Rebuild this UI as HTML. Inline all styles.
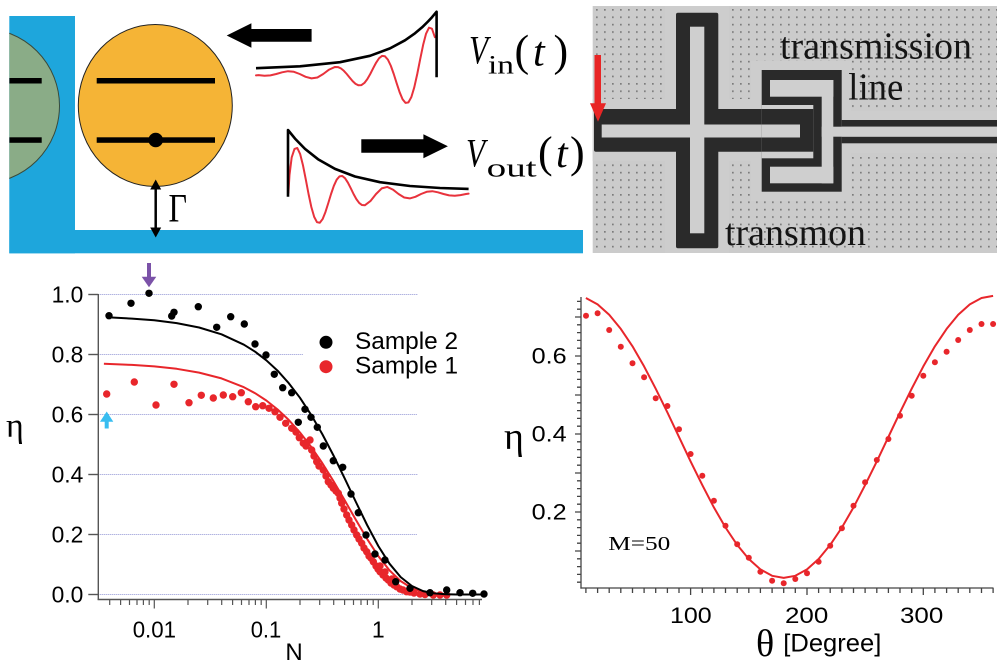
<!DOCTYPE html>
<html><head><meta charset="utf-8"><style>
html,body{margin:0;padding:0;background:#fff;}
svg{display:block;}
</style></head><body>
<svg width="1005" height="665" viewBox="0 0 1005 665" xmlns="http://www.w3.org/2000/svg">
<defs>
<clipPath id="gclip"><rect x="9.3" y="0" width="200" height="260"/></clipPath>
<pattern id="dp" x="596" y="9" width="8" height="7.4" patternUnits="userSpaceOnUse"><rect x="0" y="0" width="1.7" height="1.7" fill="#7c7c7c"/></pattern>
</defs>
<rect width="1005" height="665" fill="#fff"/>

<!-- ===== Schematic ===== -->
<rect x="9.3" y="16" width="65.7" height="237.3" fill="#1ea6dc"/>
<rect x="9.3" y="230" width="573.7" height="23.3" fill="#1ea6dc"/>
<g clip-path="url(#gclip)">
<ellipse cx="-18" cy="105.8" rx="77.5" ry="77.5" fill="#8aac87" stroke="#3a4a3a" stroke-width="1"/>
<rect x="9.3" y="78" width="32.4" height="5.5" fill="#000"/>
<rect x="9.3" y="137.3" width="32.4" height="5.5" fill="#000"/>
</g>
<ellipse cx="155.3" cy="105.5" rx="77" ry="81" fill="#f5b436" stroke="#222" stroke-width="1"/>
<rect x="96.7" y="78" width="118.3" height="5.5" fill="#000"/>
<rect x="96.7" y="137.3" width="118.3" height="5.5" fill="#000"/>
<circle cx="155.7" cy="140" r="7.3" fill="#000"/>
<line x1="155.7" y1="187" x2="155.7" y2="230" stroke="#000" stroke-width="2.5"/>
<polygon points="150.2,189.5 161.2,189.5 155.7,179.5" fill="#000"/>
<polygon points="150.2,227.5 161.2,227.5 155.7,237.5" fill="#000"/>
<text font-family="'Liberation Serif','Times New Roman',serif" font-size="40" transform="translate(168.5,221.7) scale(0.8,1)" fill="#000">Γ</text>

<polygon points="226.7,35.5 251.4,23.3 251.4,29 311.6,29 311.6,41.7 251.4,41.7 251.4,47.7" fill="#000"/>
<polygon points="361.3,139.3 423.4,139.3 423.4,134.3 447.9,146.3 423.4,158.3 423.4,152.7 361.3,152.7" fill="#000"/>

<!-- Vin -->
<polyline fill="none" stroke="#e8323c" stroke-width="2" stroke-linejoin="round" stroke-linecap="round" points="256,75.4 258.6,75.1 264.5,75.7 270.4,75.4 276.25,74 282.1,72.3 288,71.2 293.9,71.8 299.75,74 305.6,76.8 311.5,78.4 317.4,77.5 323.25,74 329.1,69.6 335,66.94 337.94,67.08 340.88,68.39 343.81,70.78 346.75,74 349.69,77.62 352.63,81.1 355.56,83.84 358.5,85.3 361.44,85.07 364.38,82.99 367.31,79.16 370.25,74 373.19,68.2 376.13,62.64 379.06,58.25 382,55.92 384.94,56.29 387.88,59.62 390.81,65.75 393.75,74 396.69,83.28 399.63,92.19 402.56,99.2 405.5,102.93 408.44,102.35 411.38,97.01 414.31,87.21 417.25,74 420.19,59.14 423.13,44.89 426.06,33.66 429,27.7 431.94,28.64 434.88,37.2"/>
<polyline fill="none" stroke="#000" stroke-width="2.6" stroke-linejoin="round" points="256,68.2 300,66.3 340,62.2 370,55.8 390,48.4 405,40.3 415,33.3 422,27.4 428,21.5 432,17.2 436.6,11.7 436.6,77.3"/>
<!-- Vout -->
<polyline fill="none" stroke="#e8323c" stroke-width="2" stroke-linejoin="round" stroke-linecap="round" points="288.4,193 289.5,175 291.68,157.43 294.49,148.94 297.3,148 300.11,153.92 302.93,165.07 305.74,179.24 308.55,194 311.36,207.13 314.18,216.88 316.99,222.2 319.8,222.78 322.61,219.08 325.43,212.1 328.24,203.24 331.05,194 333.86,185.78 336.68,179.68 339.49,176.35 342.3,175.99 345.11,178.3 347.93,182.67 350.74,188.22 353.55,194 356.36,199.14 359.18,202.96 361.99,205.04 364.8,205.27 370.4,201.1 376.05,194 381.7,188.4 387.3,186.95 392.9,189.6 398.55,194 404.2,197.5 409.8,198.4 415.4,196.8 421.05,194 426.7,191.8 432.3,191.2 437.9,192.3 443.55,194 449.2,195.4 454.8,195.7 460.4,195.1 466.05,194 468.6,193.6"/>
<polyline fill="none" stroke="#000" stroke-width="2.6" stroke-linejoin="round" points="288,196.7 288,130 295,138.6 305,148.9 318,159.2 335,168.9 355,176.5 380,182.2 410,186 440,188 468.6,188.9"/>

<!-- Vin / Vout labels -->
<g font-family="'Liberation Serif','Times New Roman',serif" fill="#000">
<text font-size="40" font-style="italic" transform="translate(469,63.3) scale(0.78,1)">V</text>
<text x="488" y="73.3" font-size="26" textLength="26" lengthAdjust="spacingAndGlyphs">in</text>
<text x="514.5" y="65.5" font-size="44">(</text>
<text x="533" y="65.5" font-size="42" font-style="italic">t</text>
<text x="553.5" y="65.5" font-size="44">)</text>
<text font-size="40" font-style="italic" transform="translate(466,166.7) scale(0.78,1)">V</text>
<text x="486.7" y="176.7" font-size="26" textLength="50" lengthAdjust="spacingAndGlyphs">out</text>
<text x="538" y="167" font-size="44">(</text>
<text x="556" y="167" font-size="42" font-style="italic">t</text>
<text x="570" y="167" font-size="44">)</text>
</g>

<!-- ===== Photo ===== -->
<rect x="592.7" y="6" width="404.3" height="247" fill="#cbcbcb"/>
<rect x="592.7" y="6" width="404.3" height="247" fill="url(#dp)"/>
<g fill="#cdcdcd">
<rect x="665" y="6" width="64" height="247"/>
<rect x="592.7" y="99" width="236" height="62"/>
<rect x="751" y="61" width="100" height="140"/>
<rect x="829" y="111" width="168" height="42"/>
</g>
<g fill="#2a2a2a">
<rect x="676" y="12.7" width="42.3" height="235.6" rx="2"/>
<rect x="594" y="109" width="219.3" height="42.7" rx="2"/>
<rect x="761.7" y="70" width="80" height="121.7"/>
</g>
<g fill="#cfcfcf">
<rect x="690" y="26.7" width="14.3" height="206.6"/>
<rect x="601.7" y="124.5" width="198.3" height="13"/>
<rect x="770" y="80" width="63.3" height="16.7"/>
<rect x="821.7" y="80" width="11.6" height="103.3"/>
<rect x="770" y="166.7" width="63.3" height="16.6"/>
<rect x="761.7" y="105" width="51.6" height="53.3"/>
</g>
<rect x="761.7" y="109" width="51.6" height="42.7" fill="#2a2a2a"/>
<rect x="761.7" y="124.5" width="38.3" height="13" fill="#cfcfcf"/>
<rect x="841.7" y="120" width="155.3" height="6.7" fill="#2a2a2a"/>
<rect x="841.7" y="136.7" width="155.3" height="6.6" fill="#2a2a2a"/>
<rect x="821.7" y="126.7" width="175.3" height="10" fill="#cfcfcf"/>
<text x="780" y="58.3" font-family="'Liberation Serif','Times New Roman',serif" font-size="38" fill="#151515" textLength="192" lengthAdjust="spacingAndGlyphs">transmission</text>
<text x="848.3" y="99.3" font-family="'Liberation Serif','Times New Roman',serif" font-size="38" fill="#151515" textLength="55" lengthAdjust="spacingAndGlyphs">line</text>
<text x="725" y="245" font-family="'Liberation Serif','Times New Roman',serif" font-size="38" fill="#151515" textLength="141" lengthAdjust="spacingAndGlyphs">transmon</text>
<rect x="594.5" y="55" width="6.5" height="48.5" fill="#e82525"/>
<polygon points="590,103.3 606,103.3 598,121.7" fill="#e82525"/>

<!-- ===== Left chart ===== -->
<g stroke="#9094d4" stroke-width="1" stroke-dasharray="1,1" fill="none">
<line x1="98.3" y1="294.5" x2="418" y2="294.5"/>
<line x1="98.3" y1="354.5" x2="303" y2="354.5"/>
<line x1="98.3" y1="414.5" x2="417" y2="414.5"/>
<line x1="98.3" y1="474.5" x2="418" y2="474.5"/>
<line x1="98.3" y1="534.5" x2="417" y2="534.5"/>
<line x1="98.3" y1="594.5" x2="460" y2="594.5"/>
</g>
<g stroke="#555" stroke-width="1.4" fill="none">
<line x1="98.3" y1="294" x2="98.3" y2="600"/>
<line x1="97.6" y1="599.5" x2="482" y2="599.5"/>
<line x1="88.3" y1="294.5" x2="98.3" y2="294.5"/>
<line x1="88.3" y1="354.5" x2="98.3" y2="354.5"/>
<line x1="88.3" y1="414.5" x2="98.3" y2="414.5"/>
<line x1="88.3" y1="474.5" x2="98.3" y2="474.5"/>
<line x1="88.3" y1="534.5" x2="98.3" y2="534.5"/>
<line x1="88.3" y1="594.5" x2="98.3" y2="594.5"/>
</g>
<g stroke="#555" stroke-width="1.2">
<path d="M109.7,599.5v5.5M120.6,599.5v5.5M129.5,599.5v5.5M137,599.5v5.5M143.4,599.5v5.5M149.2,599.5v5.5M154.3,599.5v9M188,599.5v5.5M207.7,599.5v5.5M221.7,599.5v5.5M232.6,599.5v5.5M241.5,599.5v5.5M249,599.5v5.5M255.4,599.5v5.5M261.2,599.5v5.5M266.3,599.5v9M300,599.5v5.5M319.7,599.5v5.5M333.7,599.5v5.5M344.6,599.5v5.5M353.5,599.5v5.5M361,599.5v5.5M367.4,599.5v5.5M373.2,599.5v5.5M378.3,599.5v9M412,599.5v5.5M431.7,599.5v5.5M445.7,599.5v5.5M456.6,599.5v5.5M465.5,599.5v5.5M473,599.5v5.5M479.4,599.5v5.5"/>
</g>
<g font-family="'Liberation Sans',Arial,sans-serif" font-size="23" fill="#000">
<text x="51.6" y="302.5" textLength="31.7" lengthAdjust="spacingAndGlyphs">1.0</text>
<text x="51.6" y="362.5" textLength="31.7" lengthAdjust="spacingAndGlyphs">0.8</text>
<text x="51.6" y="422.5" textLength="31.7" lengthAdjust="spacingAndGlyphs">0.6</text>
<text x="51.6" y="482.5" textLength="31.7" lengthAdjust="spacingAndGlyphs">0.4</text>
<text x="51.6" y="542.5" textLength="31.7" lengthAdjust="spacingAndGlyphs">0.2</text>
<text x="51.6" y="602.5" textLength="31.7" lengthAdjust="spacingAndGlyphs">0.0</text>
<text x="132.7" y="637.5" textLength="43.3" lengthAdjust="spacingAndGlyphs">0.01</text>
<text x="250.7" y="637.5" textLength="30.6" lengthAdjust="spacingAndGlyphs">0.1</text>
<text x="378.3" y="637.5" text-anchor="middle">1</text>
<text x="294" y="660" text-anchor="middle" font-size="24">N</text>
</g>
<text x="6" y="437" font-family="'Liberation Serif','Times New Roman',serif" font-size="34" fill="#000">η</text>

<!-- red fit -->
<polyline fill="none" stroke="#e8262b" stroke-width="2" stroke-linejoin="round" points="103.9,363.8 131.9,364.9 154.3,366.4 176.7,368.8 199.1,372.6 221.5,378.4 243.9,387.2 255.1,393.2 266.3,400.5 277.5,409.4 288.7,419.9 299.9,432.4 311.1,446.8 322.3,463.1 333.5,481.1 344.7,500.3 355.9,519.9 367.1,538.9 378.3,556.1 389.5,570.4 400.7,581.1 411.9,588.1 423.1,592 434.3,593.7 445.5,594.3"/>
<!-- red data -->
<g fill="#e8262b">
<circle cx="106.7" cy="394" r="3.7"/><circle cx="134.3" cy="382" r="3.7"/><circle cx="156" cy="405" r="3.7"/><circle cx="174" cy="384.3" r="3.7"/><circle cx="189" cy="402.7" r="3.7"/><circle cx="201.3" cy="395.3" r="3.7"/><circle cx="213.3" cy="398" r="3.7"/><circle cx="223.3" cy="395" r="3.7"/><circle cx="232.7" cy="396.7" r="3.7"/><circle cx="241.3" cy="392.7" r="3.7"/><circle cx="248.3" cy="401.7" r="3.7"/><circle cx="255.7" cy="406.7" r="3.7"/><circle cx="262.7" cy="405.7" r="3.7"/><circle cx="269" cy="408.3" r="3.7"/><circle cx="275" cy="411.7" r="3.7"/><circle cx="280" cy="417.3" r="3.7"/><circle cx="285.7" cy="423.3" r="3.7"/><circle cx="291.7" cy="428.3" r="3.7"/><circle cx="296" cy="432" r="3.7"/><circle cx="299.3" cy="437.7" r="3.7"/><circle cx="303.3" cy="443.3" r="3.7"/><circle cx="306" cy="446" r="3.7"/><circle cx="310" cy="440" r="3.7"/><circle cx="311.7" cy="450" r="3.7"/><circle cx="314" cy="456" r="3.7"/><circle cx="316.7" cy="461.7" r="3.7"/><circle cx="319" cy="466" r="3.7"/><circle cx="323.3" cy="470" r="3.7"/><circle cx="326" cy="476" r="3.7"/><circle cx="328.3" cy="481.7" r="3.7"/><circle cx="331" cy="485" r="3.7"/><circle cx="333.3" cy="488.3" r="3.7"/><circle cx="336" cy="491" r="3.7"/><circle cx="338.3" cy="493.3" r="3.7"/><circle cx="340" cy="498" r="3.7"/><circle cx="341.7" cy="503.3" r="3.7"/><circle cx="344" cy="509" r="3.7"/><circle cx="346.7" cy="515" r="3.7"/><circle cx="349" cy="520" r="3.7"/><circle cx="351.7" cy="525" r="3.7"/><circle cx="354" cy="530" r="3.7"/><circle cx="356.7" cy="535" r="3.7"/><circle cx="359" cy="539" r="3.7"/><circle cx="361.7" cy="543.3" r="3.7"/><circle cx="364" cy="548" r="3.7"/><circle cx="366.7" cy="551.7" r="3.7"/><circle cx="369" cy="556" r="3.7"/><circle cx="371" cy="558" r="3.7"/><circle cx="373.3" cy="561.7" r="3.7"/><circle cx="376" cy="566" r="3.7"/><circle cx="378" cy="569" r="3.7"/><circle cx="380" cy="571.7" r="3.7"/><circle cx="380" cy="566" r="3.7"/><circle cx="383" cy="575" r="3.7"/><circle cx="385" cy="572" r="3.7"/><circle cx="386" cy="578" r="3.7"/><circle cx="388.3" cy="580" r="3.7"/><circle cx="391" cy="583" r="3.7"/><circle cx="392" cy="579" r="3.7"/><circle cx="394" cy="585" r="3.7"/><circle cx="396.7" cy="586.7" r="3.7"/><circle cx="400" cy="589" r="3.7"/><circle cx="403" cy="590" r="3.7"/><circle cx="406.7" cy="591.7" r="3.7"/><circle cx="410" cy="592" r="3.7"/><circle cx="414" cy="593" r="3.7"/><circle cx="420" cy="594" r="3.7"/><circle cx="425" cy="594.5" r="3.7"/><circle cx="433.3" cy="595" r="3.7"/><circle cx="440" cy="595" r="3.7"/><circle cx="446.7" cy="595" r="3.7"/>
</g>
<!-- black fit -->
<polyline fill="none" stroke="#000" stroke-width="2" stroke-linejoin="round" points="109.5,317.4 131.9,318.6 154.3,320.3 176.7,323.1 199.1,327.5 221.5,334.3 243.9,344.7 255.1,351.7 266.3,360.3 277.5,370.6 288.7,383.1 299.9,397.7 311.1,414.8 322.3,434.1 333.5,455.5 344.7,478.4 355.9,502 367.1,525 378.3,546 389.5,563.7 400.7,577.1 411.9,586 423.1,591.1 434.3,593.4 445.5,594.2 456.7,594.5 483.6,594.5"/>
<g fill="#000">
<circle cx="109" cy="315.7" r="3.7"/><circle cx="131" cy="303.3" r="3.7"/><circle cx="149" cy="293.3" r="3.7"/><circle cx="171.7" cy="316" r="3.7"/><circle cx="174" cy="312.3" r="3.7"/><circle cx="198.3" cy="306.7" r="3.7"/><circle cx="216.7" cy="327.3" r="3.7"/><circle cx="230.7" cy="316.7" r="3.7"/><circle cx="244.3" cy="324" r="3.7"/><circle cx="255" cy="344" r="3.7"/><circle cx="266" cy="355" r="3.7"/><circle cx="274.3" cy="374.3" r="3.7"/><circle cx="282.7" cy="387.7" r="3.7"/><circle cx="291.7" cy="392.7" r="3.7"/><circle cx="298.3" cy="422.3" r="3.7"/><circle cx="305" cy="409.3" r="3.7"/><circle cx="311" cy="417.3" r="3.7"/><circle cx="317.3" cy="427.3" r="3.7"/><circle cx="323.3" cy="446" r="3.7"/><circle cx="333.3" cy="460.7" r="3.7"/><circle cx="342.7" cy="467.3" r="3.7"/><circle cx="351" cy="494" r="3.7"/><circle cx="358.3" cy="512.7" r="3.7"/><circle cx="366" cy="535" r="3.7"/><circle cx="375" cy="554" r="3.7"/><circle cx="385" cy="560" r="3.7"/><circle cx="395.7" cy="581.7" r="3.7"/><circle cx="410" cy="588.3" r="3.7"/><circle cx="430" cy="592.7" r="3.7"/><circle cx="446.7" cy="590" r="3.7"/><circle cx="460" cy="592.7" r="3.7"/><circle cx="472.7" cy="593.3" r="3.7"/><circle cx="484" cy="594" r="3.7"/>
</g>
<!-- legend -->
<circle cx="326" cy="342.3" r="6.5" fill="#000"/>
<circle cx="326" cy="366.7" r="6.5" fill="#e8262b"/>
<text x="355" y="349" font-family="'Liberation Sans',Arial,sans-serif" font-size="24" fill="#000" textLength="103" lengthAdjust="spacingAndGlyphs">Sample 2</text>
<text x="355" y="373.3" font-family="'Liberation Sans',Arial,sans-serif" font-size="24" fill="#000" textLength="103" lengthAdjust="spacingAndGlyphs">Sample 1</text>
<!-- arrows -->
<rect x="147" y="263" width="4" height="14" fill="#7b52a8"/>
<polygon points="141.7,276.7 156.3,276.7 149,287.3" fill="#7b52a8"/>
<polygon points="100,421.7 113.3,421.7 106.7,411.5" fill="#38bdf0"/>
<rect x="104.7" y="421" width="4" height="7.5" fill="#38bdf0"/>

<!-- ===== Right chart ===== -->
<g stroke="#444" stroke-width="1.3" fill="none">
<line x1="581" y1="297" x2="581" y2="588.6"/>
<line x1="580.4" y1="588" x2="993.5" y2="588"/>
<path d="M577,582.2h4M577,574.4h4M577,566.6h4M577,558.8h4M575,551h6M577,543.2h4M577,535.4h4M577,527.6h4M577,519.8h4M575,512h6M577,504.2h4M577,496.4h4M577,488.6h4M577,480.8h4M575,473h6M577,465.2h4M577,457.4h4M577,449.6h4M577,441.8h4M575,434h6M577,426.2h4M577,418.4h4M577,410.6h4M577,402.8h4M575,395h6M577,387.2h4M577,379.4h4M577,371.6h4M577,363.8h4M575,356h6M577,348.2h4M577,340.4h4M577,332.6h4M577,324.8h4M575,317h6M577,309.2h4M577,301.4h4"/>
<path d="M585.9,588v5M597.6,588v5M609.2,588v5M620.8,588v5M632.5,588v5M644.1,588v5M655.7,588v5M667.4,588v5M679,588v5M690.6,588v7M702.3,588v5M713.9,588v5M725.5,588v5M737.2,588v5M748.8,588v5M760.4,588v5M772.1,588v5M783.7,588v5M795.3,588v5M807,588v7M818.6,588v5M830.2,588v5M841.9,588v5M853.5,588v5M865.1,588v5M876.8,588v5M888.4,588v5M900,588v5M911.7,588v5M923.3,588v7M934.9,588v5M946.6,588v5M958.2,588v5M969.8,588v5M981.5,588v5M993.1,588v5"/>
</g>
<polyline fill="none" stroke="#e8262b" stroke-width="2" stroke-linejoin="round" points="585.9,298 597.6,304.4 609.2,314.8 620.8,328.9 632.5,346.3 644.1,366.4 655.7,388.7 667.4,412.4 679,436.9 690.6,461.4 702.3,485.1 713.9,507.4 725.5,527.5 737.2,544.9 748.8,559 760.4,569.4 772.1,575.8 783.7,577.9 795.3,575.8 807,569.4 818.6,559 830.2,544.9 841.9,527.5 853.5,507.4 865.1,485.1 876.8,461.4 888.4,436.9 900,412.4 911.7,388.7 923.3,366.4 934.9,346.3 946.6,328.9 958.2,314.8 969.8,304.4 981.5,298 993.1,295.9"/>
<g fill="#e8262b">
<circle cx="586" cy="315.7" r="3"/><circle cx="597.6" cy="313.3" r="3"/><circle cx="609.2" cy="330" r="3"/><circle cx="620.8" cy="346.7" r="3"/><circle cx="632.5" cy="363.3" r="3"/><circle cx="644.1" cy="377.3" r="3"/><circle cx="655.7" cy="398.3" r="3"/><circle cx="667.4" cy="406" r="3"/><circle cx="679" cy="429.3" r="3"/><circle cx="690.6" cy="454" r="3"/><circle cx="702.3" cy="475.7" r="3"/><circle cx="713.9" cy="500.7" r="3"/><circle cx="725.5" cy="525.7" r="3"/><circle cx="737.2" cy="544.3" r="3"/><circle cx="748.8" cy="557.7" r="3"/><circle cx="760.4" cy="571.7" r="3"/><circle cx="772.1" cy="580.7" r="3"/><circle cx="783.7" cy="583.3" r="3"/><circle cx="795.3" cy="579" r="3"/><circle cx="807" cy="573.3" r="3"/><circle cx="818.6" cy="561.7" r="3"/><circle cx="830.2" cy="545.7" r="3"/><circle cx="841.9" cy="528.3" r="3"/><circle cx="853.5" cy="505.7" r="3"/><circle cx="865.1" cy="482.3" r="3"/><circle cx="876.8" cy="460" r="3"/><circle cx="888.4" cy="439" r="3"/><circle cx="900" cy="415.7" r="3"/><circle cx="911.7" cy="395.7" r="3"/><circle cx="923.3" cy="375.7" r="3"/><circle cx="934.9" cy="362.3" r="3"/><circle cx="946.6" cy="351.7" r="3"/><circle cx="958.2" cy="340" r="3"/><circle cx="969.8" cy="330" r="3"/><circle cx="981.5" cy="324" r="3"/><circle cx="993.1" cy="324" r="3"/>
</g>
<g font-family="'Liberation Sans',Arial,sans-serif" font-size="22" fill="#000">
<text x="531.7" y="363.3" textLength="35" lengthAdjust="spacingAndGlyphs">0.6</text>
<text x="531.7" y="441.3" textLength="35" lengthAdjust="spacingAndGlyphs">0.4</text>
<text x="531.7" y="519.3" textLength="35" lengthAdjust="spacingAndGlyphs">0.2</text>
<text x="670" y="623" textLength="41.7" lengthAdjust="spacingAndGlyphs">100</text>
<text x="785" y="623" textLength="43.3" lengthAdjust="spacingAndGlyphs">200</text>
<text x="900" y="623" textLength="43.3" lengthAdjust="spacingAndGlyphs">300</text>
<text x="783.3" y="651.7" font-size="25" textLength="98" lengthAdjust="spacingAndGlyphs">[Degree]</text>
</g>
<text x="504" y="449" font-family="'Liberation Serif','Times New Roman',serif" font-size="38" fill="#000">η</text>
<text x="756" y="656" font-family="'Liberation Serif','Times New Roman',serif" font-size="38" fill="#000">θ</text>
<text x="608.3" y="550" font-family="'Liberation Serif','Times New Roman',serif" font-size="20" fill="#000" textLength="62" lengthAdjust="spacingAndGlyphs">M=50</text>
</svg>
</body></html>
